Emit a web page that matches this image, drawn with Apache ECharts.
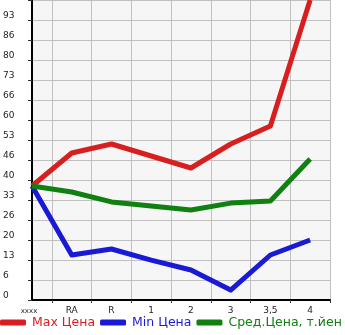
<!DOCTYPE html>
<html>
<head>
<meta charset="utf-8">
<script src="https://cdn.jsdelivr.net/npm/echarts@6/dist/echarts.min.js"></script>
<style>
  html, body { margin: 0; padding: 0; background: #fff; }
  #chart { width: 345px; height: 335px; }
</style>
</head>
<body>
<div id="chart"></div>
<script>
  // категории по оси X
  const categories = ['xxx', 'RA', 'R', '1', '2', '3', '3,5', '4'];
  const maxPrice = [38, 49, 52, 48, 44, 52, 58, 100];
  const minPrice = [38, 15, 17, 13.3, 10, 3.3, 15, 20];
  const avgPrice = [38, 36, 32.7, 31.3, 30, 32.3, 33, 47];
  const yTicks = [0, 20 / 3, 40 / 3, 20, 80 / 3, 100 / 3, 40, 140 / 3, 160 / 3, 60, 200 / 3, 220 / 3, 80, 260 / 3, 280 / 3];

  const toPairs = arr => arr.map((v, i) => [i, v]);
  const font = 'DejaVu Sans';

  const myChart = echarts.init(document.getElementById('chart'));
  let option = {
    animation: false,
    textStyle: { fontFamily: font },
    grid: { left: 30, top: 0, right: 15, bottom: 35, show: true, backgroundColor: '#f6f6f6', borderWidth: 0 },
    xAxis: {
      type: 'value',
      min: 0, max: 7.5, interval: 0.5,
      axisLine: { show: true, lineStyle: { color: '#000', width: 2 } },
      splitLine: { show: true, lineStyle: { color: '#c0c0c0', width: 1 } },
      axisTick: { show: true, length: 3, lineStyle: { color: '#333' },
        customValues: [0.5, 1.5, 2.5, 3.5, 4.5, 5.5, 6.5, 7.5] },
      axisLabel: {
        customValues: [0, 1, 2, 3, 4, 5, 6, 7],
        margin: 6, fontSize: 9, color: '#222',
        formatter: v => v === 0 ? '{s|xxxx}' : categories[v],
        rich: { s: { fontSize: 7, color: '#222', padding: [2, 6, 0, 0] } }
      }
    },
    yAxis: {
      type: 'value',
      min: 0, max: 100, interval: 20 / 3,
      axisLine: { show: true, lineStyle: { color: '#000', width: 2 } },
      splitLine: { show: true, lineStyle: { color: '#c0c0c0', width: 1 } },
      axisTick: { show: true, length: 4, lineStyle: { color: '#333' } },
      axisLabel: {
        customValues: yTicks,
        formatter: v => Math.floor(v + 1e-6),
        align: 'left', verticalAlign: 'bottom', margin: 29,
        fontSize: 9, color: '#222'
      }
    },
    legend: {
      left: -5, bottom: 1, width: 600,
      itemWidth: 26, itemHeight: 6, itemGap: 5,
      icon: 'roundRect',
      textStyle: { fontSize: 12.5, fontFamily: font, padding: [0, 0, 0, 1] },
      data: [
        { name: 'Max Цена', textStyle: { color: '#d81e1e' } },
        { name: 'Min Цена', textStyle: { color: '#1a1ad6' } },
        { name: 'Сред.Цена, т.йен', textStyle: { color: '#108010' } }
      ]
    },
    series: [
      { name: 'Max Цена', type: 'line', data: toPairs(maxPrice), symbol: 'none',
        color: '#d81e1e', lineStyle: { width: 5, join: 'round' } },
      { name: 'Min Цена', type: 'line', data: toPairs(minPrice), symbol: 'none',
        color: '#1a1ad6', lineStyle: { width: 5, join: 'round' } },
      { name: 'Сред.Цена, т.йен', type: 'line', data: toPairs(avgPrice), symbol: 'none',
        color: '#108010', lineStyle: { width: 5, join: 'round' } }
    ]
  };
  myChart.setOption(option);
</script>
</body>
</html>
